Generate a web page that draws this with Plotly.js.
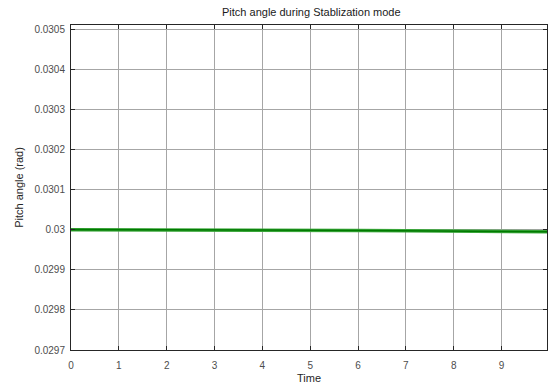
<!DOCTYPE html>
<html><head><meta charset="utf-8">
<script src="https://cdn.plot.ly/plotly-3.0.1.min.js"></script>
<style>html,body{margin:0;padding:0;background:#fff}#chart{width:550px;height:387px}</style>
</head><body><div id="chart"></div>
<script>
const timeValues = [0, 1, 2, 3, 4, 5, 6, 7, 8, 9, 9.95];
const pitchValues = [0.03, 0.0300000, 0.0299998, 0.0299995, 0.0299991, 0.0299986, 0.0299980, 0.0299973, 0.0299965, 0.0299956, 0.0299946];
const xTickVals = [0, 1, 2, 3, 4, 5, 6, 7, 8, 9];
const yTickVals = [0.0297, 0.0298, 0.0299, 0.03, 0.0301, 0.0302, 0.0303, 0.0304, 0.0305];
const yTickText = ['0.0297', '0.0298', '0.0299', '0.03', '0.0301', '0.0302', '0.0303', '0.0304', '0.0305'];

const font = 'Liberation Sans, Arial, Helvetica, sans-serif';
const traces = [
  {x: timeValues, y: pitchValues, mode: 'lines', line: {color: '#3aa63a', width: 3.5}, hoverinfo: 'skip'},
  {x: timeValues, y: pitchValues, mode: 'lines', line: {color: '#007a00', width: 1.6}}
];
const axisCommon = {
  showline: true, mirror: 'ticks', linecolor: '#262626', linewidth: 1,
  ticks: 'inside', ticklen: 4, tickcolor: '#262626',
  showgrid: true, gridcolor: '#a6a6a6', gridwidth: 1, zeroline: false,
  tickfont: {family: font, size: 10, color: '#4d4d4d'}
};
const layout = {
  width: 550, height: 387,
  margin: {l: 71, r: 3, t: 25, b: 37},
  paper_bgcolor: '#fff', plot_bgcolor: '#fff',
  showlegend: false,
  title: {text: 'Pitch angle during Stablization mode', font: {family: font, size: 11, color: '#1a1a1a'}, x: 0.566, xanchor: 'center', y: 0.968, yanchor: 'middle'},
  xaxis: Object.assign({}, axisCommon, {range: [0, 9.95], tickvals: xTickVals, ticklabelstandoff: 6,
    title: {text: 'Time', font: {family: font, size: 11, color: '#262626'}, standoff: 4}}),
  yaxis: Object.assign({}, axisCommon, {range: [0.0297, 0.03051], tickvals: yTickVals, ticktext: yTickText, ticklabelstandoff: 3,
    title: {text: 'Pitch angle (rad)', font: {family: font, size: 11, color: '#262626'}, standoff: 8}})
};
Plotly.newPlot('chart', traces, layout, {displayModeBar: false, staticPlot: true});
</script></body></html>
